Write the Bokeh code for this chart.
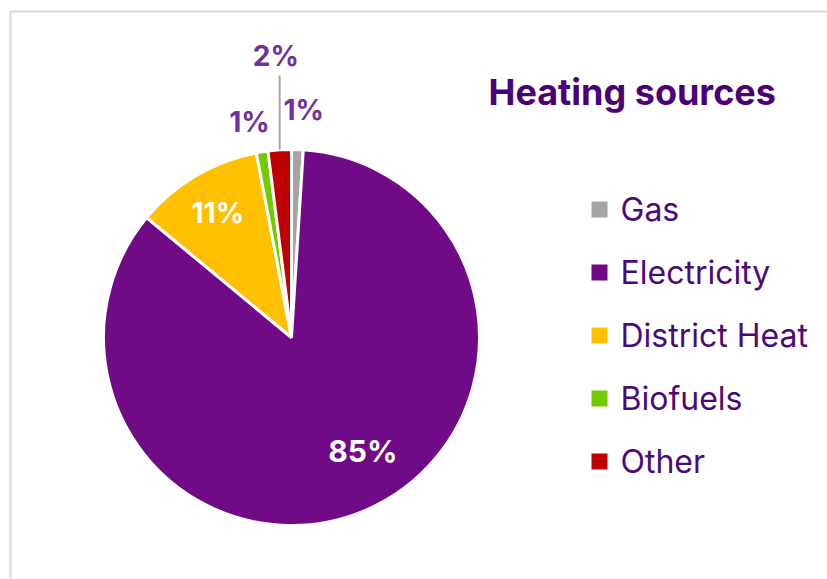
import math
from bokeh.plotting import figure
from bokeh.models import Range1d, ColumnDataSource
from bokeh.core.properties import value
from bokeh.embed import file_html
from bokeh.resources import INLINE

# Heating sources, share of total (%)
categories = ["Gas", "Electricity", "District Heat", "Biofuels", "Other"]
shares = [1, 85, 11, 1, 2]
colors = ["#a5a5a5", "#700a87", "#ffc000", "#72c900", "#c00000"]
label_texts = [f"{v}%" for v in shares]

W, H = 827, 579
FONT = "Inter"
TITLE_COLOR = "#4b0078"
LABEL_PURPLE = "#7030a0"

p = figure(width=W, height=H, output_backend="svg", toolbar_location=None,
           x_range=Range1d(0, W), y_range=Range1d(0, H), min_border=0)
p.axis.visible = False
p.grid.visible = False
p.outline_line_color = None
p.background_fill_color = "white"
p.border_fill_color = "white"

# light frame along the top and left edges
p.line(x=[10, 10, W + 5], y=[-5, H - 11, H - 11], line_color="#d9d9d9", line_width=2)

# pie geometry (screen-like units; y measured upward)
cx, cy, r = 291, H - 337, 188
total = sum(shares)
starts, ends, mids = [], [], []
acc = 0.0
for v in shares:
    a0 = math.pi / 2 - 2 * math.pi * acc / total
    acc += v
    a1 = math.pi / 2 - 2 * math.pi * acc / total
    starts.append(a0)
    ends.append(a1)
    mids.append((a0 + a1) / 2)

src = ColumnDataSource(dict(start=starts, end=ends, color=colors, name=categories))
p.wedge(x=cx, y=cy, radius=r, start_angle="start", end_angle="end",
        direction="clock", fill_color="color", line_color="white", line_width=3,
        source=src)

# percentage labels: (radius factor, dx, dy, colour, size)
placement = {
    "Gas": (1.21, 5, 0, LABEL_PURPLE, "28px"),
    "Electricity": (0.70, 19, 7, "white", "30px"),
    "District Heat": (0.77, 0, 0, "white", "28px"),
    "Biofuels": (1.16, -8, 0, LABEL_PURPLE, "28px"),
    "Other": (1.50, 2, 0, LABEL_PURPLE, "28px"),
}
lx, ly, lt, lc, ls = [], [], [], [], []
for name, m, t in zip(categories, mids, label_texts):
    f, dx, dy, c, s = placement[name]
    lx.append(cx + f * r * math.cos(m) + dx)
    ly.append(cy + f * r * math.sin(m) + dy)
    lt.append(t)
    lc.append(c)
    ls.append(s)
lab = ColumnDataSource(dict(x=lx, y=ly, text=lt, color=lc, size=ls))
p.text(x="x", y="y", text="text", text_color="color", text_font=value(FONT),
       text_font_style="bold", text_font_size="size",
       text_align="center", text_baseline="middle", source=lab)

# leader line for the small "Other" slice
i_other = categories.index("Other")
ox = cx + r * math.cos(mids[i_other])
oy = cy + r * math.sin(mids[i_other])
p.line(x=[ox, ox], y=[oy, H - 75], line_color="#a6a6a6", line_width=2)

# title
p.text(x=[488], y=[H - 91], text=["Heating sources"], text_color=TITLE_COLOR,
       text_font=value(FONT), text_font_style="bold", text_font_size="36px",
       text_align="left", text_baseline="middle")

# legend
row_y = [H - (209 + 63 * i) for i in range(len(categories))]
p.scatter(x=[599] * len(categories), y=row_y, marker="square", size=16,
          fill_color=colors, line_color=None)
p.text(x=[620] * len(categories), y=row_y, text=categories, text_color="#4b0a78",
       text_font=value(FONT), text_font_size="32px",
       text_align="left", text_baseline="middle")

open("out.html", "w").write(file_html(p, INLINE))
